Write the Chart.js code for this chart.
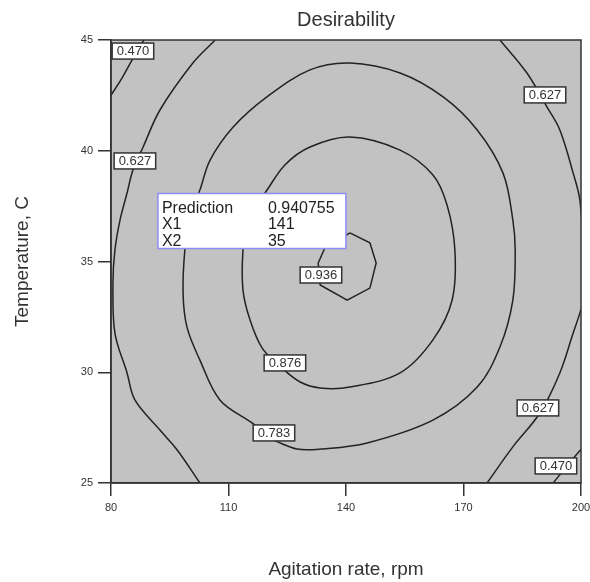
<!DOCTYPE html>
<html>
<head>
<meta charset="utf-8">
<script src="https://cdn.jsdelivr.net/npm/chart.js@4.4.1/dist/chart.umd.min.js"></script>
<style>
  body { margin: 0; background: #fff; }
  #wrap { width: 590px; height: 582px; }
</style>
</head>
<body>
<div id="wrap"><canvas id="desirabilityChart" width="590" height="582"></canvas></div>
<script>
// axis ranges / ticks
const xTicks = [80, 110, 140, 170, 200];
const yTicks = [25, 30, 35, 40, 45];

// contour lines (x = agitation rate, y = temperature)
const c470aX = [88.4, 85.4, 82.8, 79.6];
const c470aY = [45.0, 44.10, 43.28, 42.4];
const c470bX = [200.4, 196.4, 192.9];
const c470bY = [26.6, 25.77, 25.0];
const c627aX = [106.6, 100.9, 92.5, 88.2, 85.6, 84.1, 82.3, 81.0, 80.5, 81.0, 84.1, 86.1, 92.5, 96.9, 102.7];
const c627aY = [45.0, 43.96, 41.84, 40.17, 39.13, 38.09, 36.87, 35.52, 34.03, 31.77, 29.97, 28.75, 27.39, 26.49, 25.0];
const c627bX = [179.3, 186.2, 191.3, 194.6, 198.0, 199.7, 200.6, 200.6, 199.7, 198.0, 194.6, 189.5, 182.6, 176.0];
const c627bY = [45.0, 43.51, 41.98, 40.94, 38.99, 37.78, 35.5, 33.3, 32.67, 31.77, 29.97, 28.16, 26.63, 25.0];
const c783X = [121.9, 116.0, 107.8, 102.7, 99.4, 98.4, 98.9, 100.2, 102.7, 105.3, 111.2, 119.8, 130.8, 141.0, 153.8, 164.8, 173.5, 180.1, 182.6, 183.2, 182.6, 179.3, 173.5, 162.2, 145.4, 133.4, 127.5, 121.9];
const c783Y = [26.90, 27.71, 28.75, 30.55, 32.04, 33.58, 35.61, 37.10, 38.23, 39.58, 41.07, 42.43, 43.65, 43.96, 43.51, 42.43, 40.94, 38.99, 36.87, 35.52, 33.26, 31.14, 29.33, 27.84, 26.81, 26.53, 26.53, 26.90];
const c876X = [123.2, 118.6, 115.5, 113.7, 113.7, 115.0, 119.3, 124.4, 130.8, 141.0, 153.8, 162.2, 165.8, 167.8, 167.1, 162.2, 153.8, 141.0, 133.4, 128.3, 123.2];
const c876Y = [30.24, 31.09, 32.36, 33.71, 35.52, 37.10, 38.09, 39.36, 40.17, 40.62, 40.03, 38.91, 37.55, 35.52, 33.26, 31.46, 29.97, 29.33, 29.29, 29.56, 30.24];
const c936X = [141.0, 146.1, 147.7, 146.1, 140.3, 133.4, 132.9, 134.6, 141.0];
const c936Y = [36.29, 35.84, 34.93, 33.80, 33.26, 33.94, 34.93, 35.61, 36.29];

// contour value labels
const labelText = ['0.470', '0.627', '0.627', '0.936', '0.876', '0.627', '0.783', '0.470'];
const labelX = [85.6, 86.1, 190.8, 133.6, 124.4, 189.0, 121.6, 193.6];
const labelY = [44.5, 39.54, 42.52, 34.39, 30.42, 28.39, 27.26, 25.77];

// prediction flag
const predPoint = [141, 35];
const predNames = ['Prediction', 'X1', 'X2'];
const predValues = ['0.940755', '141', '35'];

function toPoints(xs, ys) {
    return xs.map((x, i) => ({ x: x, y: ys[i] }));
}

function contour(xs, ys, tension) {
    return {
        data: toPoints(xs, ys),
        showLine: true,
        borderColor: '#222',
        borderWidth: 1.5,
        pointRadius: 0,
        tension: tension,
        clip: 0
    };
}

Chart.defaults.font.family = '"Liberation Sans", Arial, sans-serif';

const plotDecor = {
    id: 'plotDecor',
    beforeDraw(chart) {
        const { ctx, chartArea: a } = chart;
        ctx.save();
        ctx.fillStyle = '#c2c2c2';
        ctx.fillRect(a.left, a.top, a.right - a.left, a.bottom - a.top);
        ctx.restore();
    },
    afterDatasetsDraw(chart) {
        const { ctx, chartArea: a } = chart;
        const xs = chart.scales.x, ys = chart.scales.y;
        ctx.save();
        // frame
        ctx.strokeStyle = '#333';
        ctx.lineWidth = 1.5;
        ctx.strokeRect(a.left, a.top, a.right - a.left, a.bottom - a.top);

        // contour labels
        ctx.font = '13px "Liberation Sans", Arial, sans-serif';
        ctx.textAlign = 'center';
        ctx.textBaseline = 'middle';
        labelText.forEach((t, i) => {
            const px = xs.getPixelForValue(labelX[i]);
            const py = ys.getPixelForValue(labelY[i]);
            const w = ctx.measureText(t).width + 9;
            const h = 16;
            ctx.fillStyle = '#fff';
            ctx.fillRect(px - w / 2, py - h / 2, w, h);
            ctx.strokeStyle = '#333';
            ctx.lineWidth = 1.5;
            ctx.strokeRect(px - w / 2, py - h / 2, w, h);
            ctx.fillStyle = '#333';
            ctx.fillText(t, px, py + 0.5);
        });

        // prediction box
        const fx = xs.getPixelForValue(predPoint[0]);
        const fy = ys.getPixelForValue(predPoint[1]);
        const bw = 188, bh = 55;
        const bx = fx - 4 - bw, by = fy - 13 - bh;
        ctx.fillStyle = '#fff';
        ctx.fillRect(bx, by, bw, bh);
        ctx.strokeStyle = '#8c8cf5';
        ctx.lineWidth = 1.5;
        ctx.strokeRect(bx, by, bw, bh);
        ctx.fillStyle = '#222';
        ctx.font = '16px "Liberation Sans", Arial, sans-serif';
        ctx.textAlign = 'left';
        ctx.textBaseline = 'alphabetic';
        predNames.forEach((n, i) => {
            const ty = by + 19 + i * 16.5;
            ctx.fillText(n, bx + 4, ty);
            ctx.fillText(predValues[i], bx + 110, ty);
        });
        ctx.restore();
    }
};

const ctx = document.getElementById('desirabilityChart').getContext('2d');
new Chart(ctx, {
    type: 'scatter',
    data: {
        datasets: [
            contour(c470aX, c470aY, 0.3),
            contour(c470bX, c470bY, 0.3),
            contour(c627aX, c627aY, 0.35),
            contour(c627bX, c627bY, 0.35),
            contour(c783X, c783Y, 0.35),
            contour(c876X, c876Y, 0.35),
            contour(c936X, c936Y, 0)
        ]
    },
    options: {
        responsive: false,
        animation: false,
        layout: { padding: { left: 0, right: 9, top: 0, bottom: 0 } },
        plugins: {
            legend: { display: false },
            tooltip: { enabled: false },
            title: {
                display: true,
                text: 'Desirability',
                fullSize: false,
                color: '#333',
                font: { size: 20, weight: 'normal' },
                padding: { top: 8, bottom: 8 }
            }
        },
        scales: {
            x: {
                type: 'linear',
                min: xTicks[0],
                max: xTicks[xTicks.length - 1],
                afterBuildTicks: s => { s.ticks = xTicks.map(v => ({ value: v })); },
                afterFit: s => { s.height = 99; s.paddingLeft = 0; s.paddingRight = 0; },
                ticks: { color: '#333', font: { size: 11 }, padding: 5, maxRotation: 0 },
                grid: { drawOnChartArea: false, tickLength: 13, color: '#333', lineWidth: 1.5 },
                border: { display: true, color: '#333', width: 1.5 },
                title: {
                    display: true,
                    text: 'Agitation rate, rpm',
                    color: '#333',
                    font: { size: 19 },
                    padding: { top: 0, bottom: 1 }
                }
            },
            y: {
                type: 'linear',
                min: yTicks[0],
                max: yTicks[yTicks.length - 1],
                afterBuildTicks: s => { s.ticks = yTicks.map(v => ({ value: v })); },
                afterFit: s => { s.width = 111; s.paddingTop = 0; s.paddingBottom = 0; },
                ticks: { color: '#333', font: { size: 11 }, padding: 5 },
                grid: { drawOnChartArea: false, tickLength: 13, color: '#333', lineWidth: 1.5 },
                border: { display: true, color: '#333', width: 1.5 },
                title: {
                    display: true,
                    text: 'Temperature, C',
                    color: '#333',
                    font: { size: 19 },
                    padding: { top: 11, bottom: 0 }
                }
            }
        }
    },
    plugins: [plotDecor]
});
</script>
</body>
</html>
